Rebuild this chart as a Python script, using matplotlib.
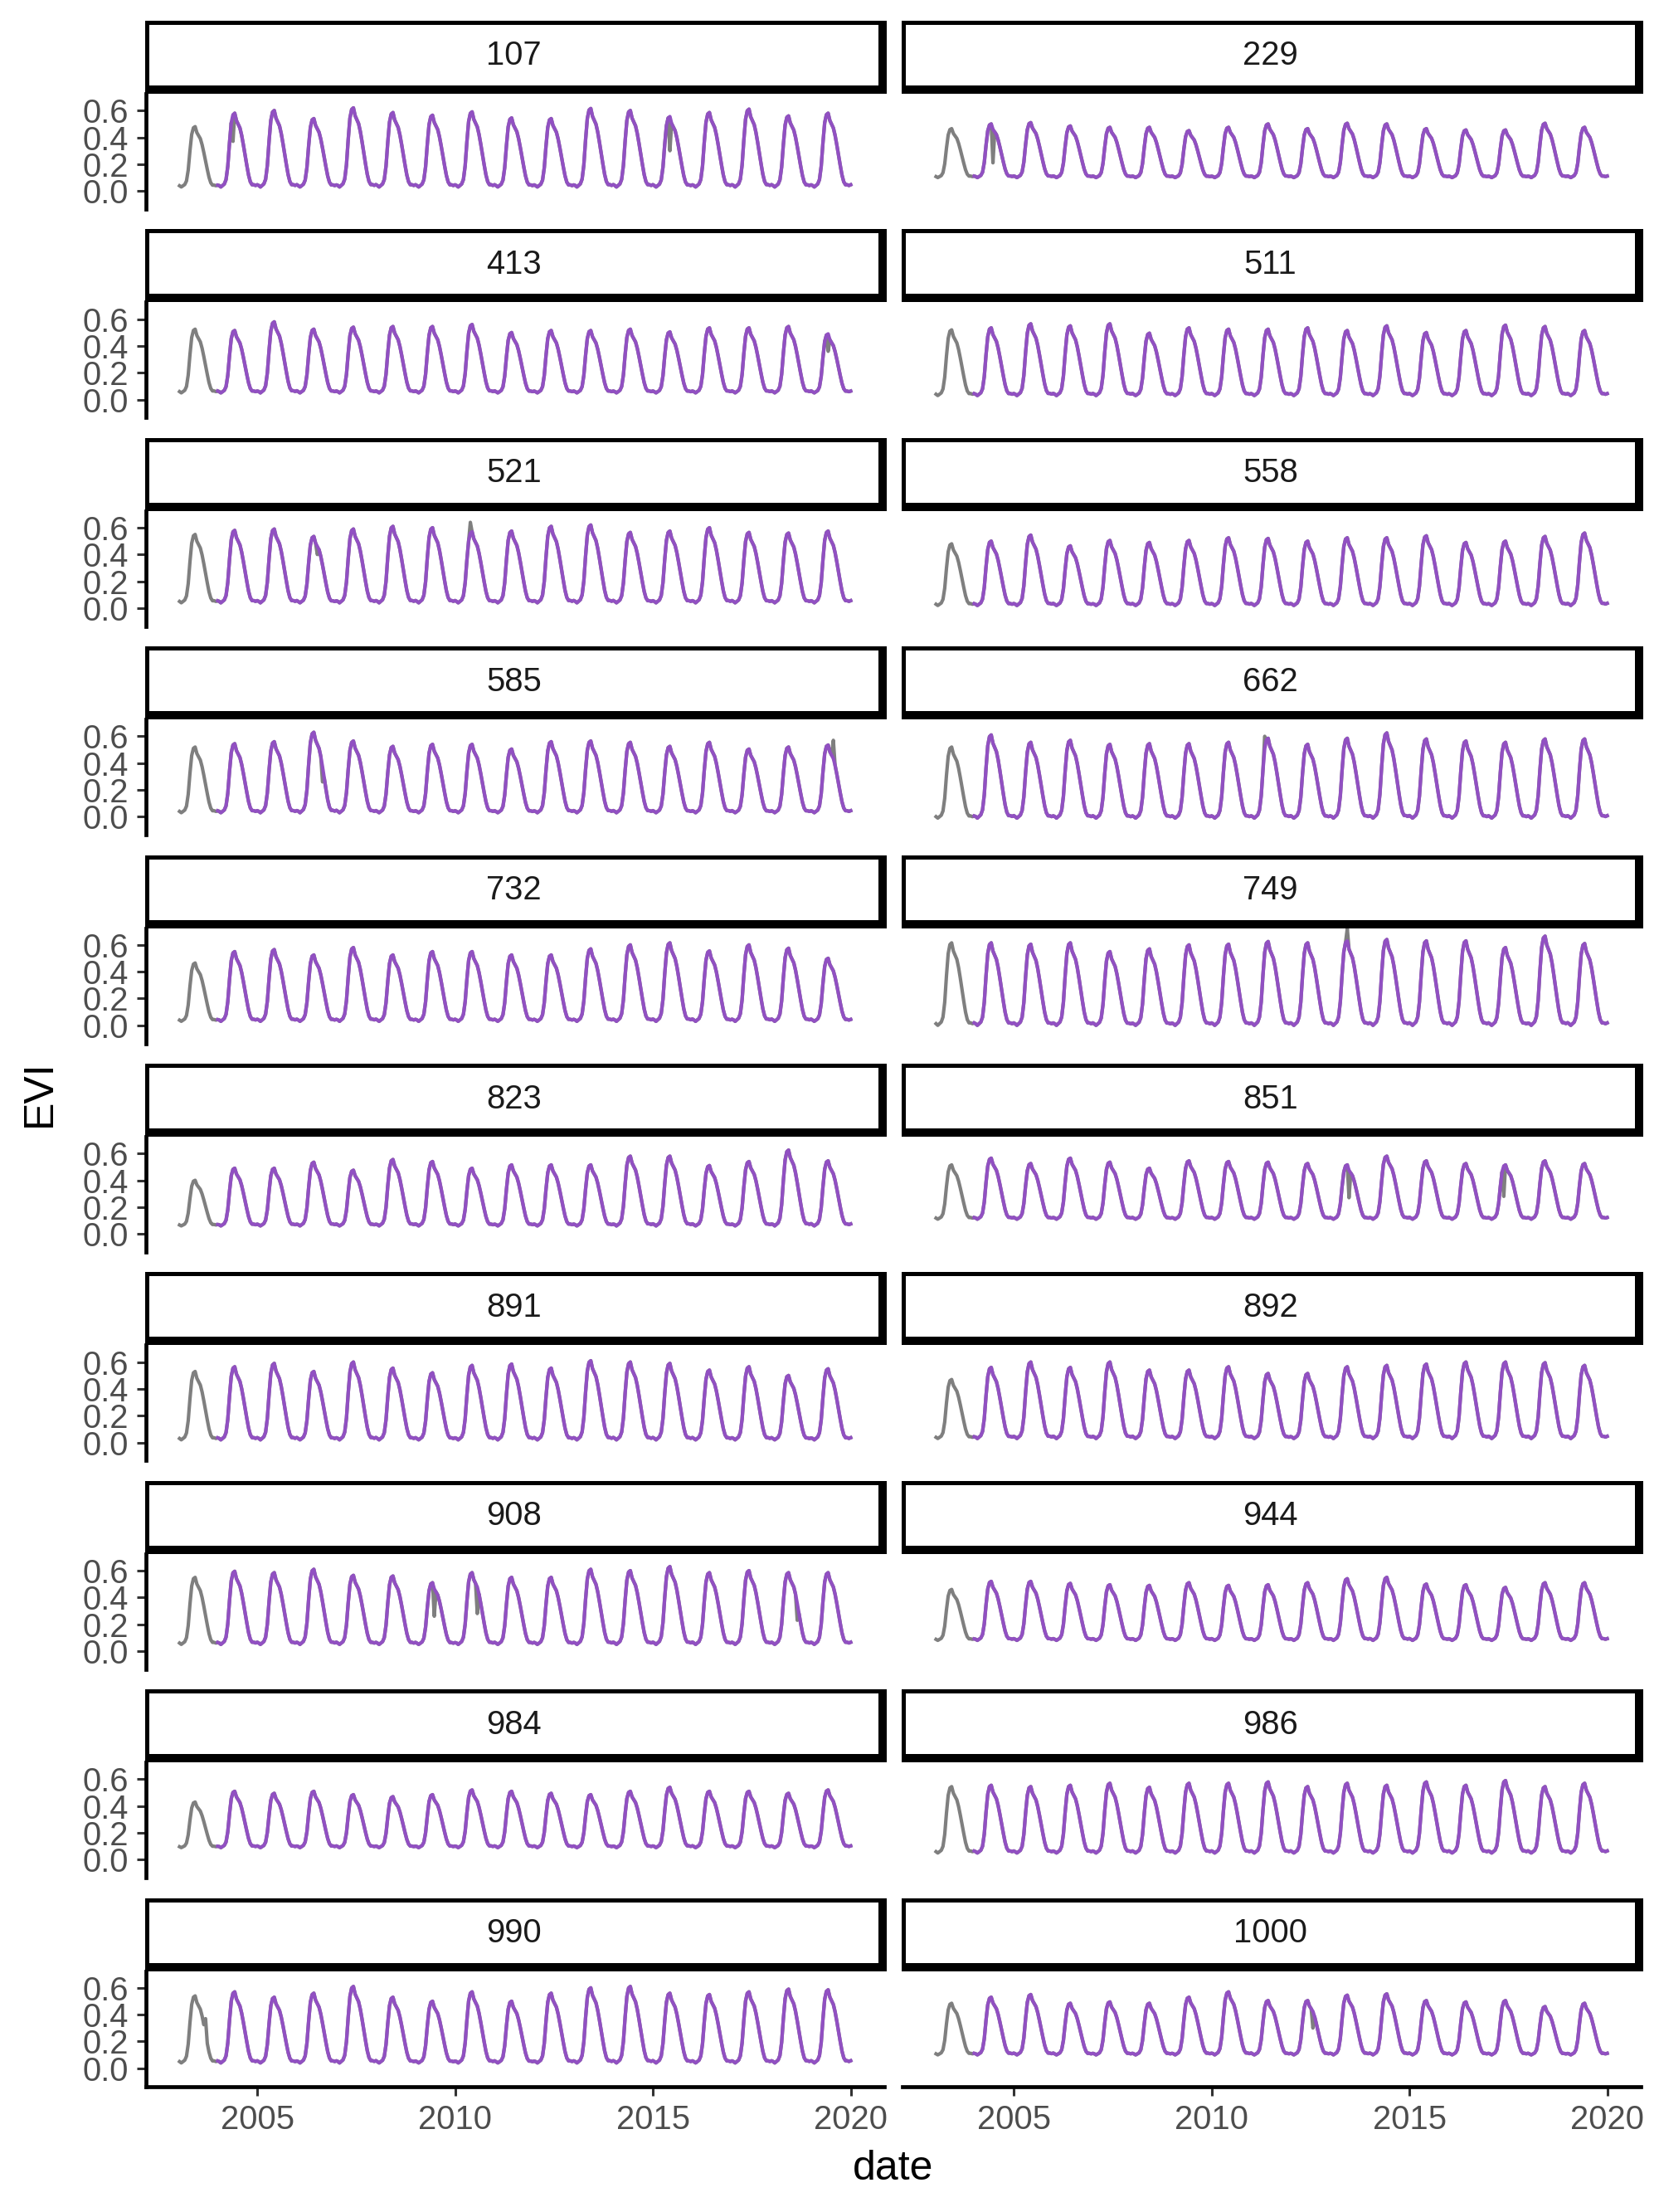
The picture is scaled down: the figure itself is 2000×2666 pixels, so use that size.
import numpy as np
import matplotlib.pyplot as plt
from matplotlib.patches import Rectangle

plt.rcParams['font.family'] = ['Liberation Sans', 'DejaVu Sans']

# 16-day composites: day of year of each step, 23 per year
years = list(range(2003, 2020))
composite_doy = list(range(13, 366, 16))

# typical normalised seasonal course (0 = winter base, 1 = summer peak), read off one cycle
season_shape = [0.02, 0.00, 0.02, 0.04, 0.10, 0.28, 0.60, 0.87, 0.98, 1.00, 0.90, 0.85,
                0.80, 0.70, 0.57, 0.43, 0.29, 0.16, 0.07, 0.03, 0.03, 0.02, 0.03]

sites = ["107", "229", "413", "511", "521", "558", "585", "662", "732", "749",
         "823", "851", "891", "892", "908", "944", "984", "986", "990", "1000"]

# winter base level of each site
base_level = [0.03, 0.10, 0.05, 0.03, 0.04, 0.02, 0.03, -0.01, 0.03, 0.00,
              0.06, 0.11, 0.02, 0.03, 0.05, 0.08, 0.09, 0.05, 0.04, 0.10]

# yearly EVI peak, 2003 .. 2019
peak_107 = [0.48, 0.58, 0.60, 0.54, 0.62, 0.585, 0.565, 0.59, 0.545, 0.54, 0.615, 0.60, 0.555, 0.585, 0.61, 0.56, 0.58]
peak_229 = [0.465, 0.50, 0.51, 0.485, 0.475, 0.475, 0.45, 0.475, 0.50, 0.465, 0.505, 0.50, 0.465, 0.455, 0.455, 0.505, 0.475]
peak_413 = [0.525, 0.515, 0.58, 0.525, 0.54, 0.545, 0.545, 0.56, 0.50, 0.515, 0.515, 0.525, 0.505, 0.535, 0.535, 0.545, 0.49]
peak_511 = [0.52, 0.535, 0.565, 0.55, 0.565, 0.495, 0.535, 0.525, 0.525, 0.535, 0.515, 0.55, 0.50, 0.515, 0.555, 0.545, 0.515]
peak_521 = [0.55, 0.58, 0.59, 0.535, 0.59, 0.61, 0.60, 0.57, 0.575, 0.61, 0.62, 0.565, 0.575, 0.60, 0.565, 0.56, 0.575]
peak_558 = [0.48, 0.50, 0.545, 0.465, 0.505, 0.49, 0.505, 0.525, 0.52, 0.50, 0.525, 0.525, 0.54, 0.49, 0.50, 0.535, 0.56]
peak_585 = [0.52, 0.545, 0.56, 0.63, 0.565, 0.525, 0.54, 0.54, 0.505, 0.56, 0.565, 0.555, 0.525, 0.555, 0.505, 0.52, 0.535]
peak_662 = [0.52, 0.61, 0.555, 0.57, 0.54, 0.545, 0.545, 0.555, 0.585, 0.54, 0.585, 0.625, 0.58, 0.565, 0.555, 0.58, 0.58]
peak_732 = [0.465, 0.55, 0.565, 0.525, 0.58, 0.525, 0.55, 0.55, 0.525, 0.525, 0.57, 0.60, 0.615, 0.555, 0.60, 0.575, 0.50]
peak_749 = [0.615, 0.615, 0.605, 0.615, 0.55, 0.57, 0.60, 0.605, 0.625, 0.615, 0.63, 0.64, 0.63, 0.63, 0.58, 0.665, 0.61]
peak_823 = [0.40, 0.49, 0.49, 0.535, 0.475, 0.555, 0.54, 0.49, 0.515, 0.515, 0.515, 0.58, 0.58, 0.51, 0.54, 0.625, 0.545]
peak_851 = [0.515, 0.565, 0.525, 0.565, 0.535, 0.49, 0.545, 0.54, 0.535, 0.525, 0.515, 0.58, 0.545, 0.525, 0.515, 0.545, 0.525]
peak_891 = [0.53, 0.565, 0.59, 0.53, 0.60, 0.555, 0.52, 0.575, 0.585, 0.555, 0.61, 0.60, 0.59, 0.54, 0.565, 0.50, 0.55]
peak_892 = [0.47, 0.56, 0.60, 0.56, 0.60, 0.54, 0.54, 0.565, 0.515, 0.515, 0.565, 0.575, 0.585, 0.60, 0.60, 0.595, 0.575]
peak_908 = [0.55, 0.595, 0.585, 0.61, 0.565, 0.56, 0.51, 0.585, 0.55, 0.55, 0.61, 0.60, 0.63, 0.585, 0.60, 0.585, 0.585]
peak_944 = [0.46, 0.52, 0.52, 0.505, 0.495, 0.49, 0.51, 0.49, 0.495, 0.51, 0.54, 0.55, 0.50, 0.495, 0.475, 0.51, 0.51]
peak_984 = [0.43, 0.51, 0.495, 0.51, 0.485, 0.47, 0.485, 0.52, 0.51, 0.495, 0.485, 0.51, 0.54, 0.51, 0.51, 0.495, 0.52]
peak_986 = [0.545, 0.555, 0.545, 0.555, 0.57, 0.54, 0.57, 0.57, 0.58, 0.545, 0.57, 0.555, 0.58, 0.555, 0.59, 0.545, 0.57]
peak_990 = [0.54, 0.57, 0.53, 0.56, 0.61, 0.53, 0.50, 0.57, 0.50, 0.56, 0.60, 0.61, 0.56, 0.55, 0.57, 0.59, 0.585]
peak_1000 = [0.485, 0.53, 0.55, 0.485, 0.495, 0.485, 0.53, 0.57, 0.505, 0.505, 0.545, 0.555, 0.505, 0.495, 0.505, 0.46, 0.485]

peaks = [peak_107, peak_229, peak_413, peak_511, peak_521, peak_558, peak_585, peak_662, peak_732, peak_749,
         peak_823, peak_851, peak_891, peak_892, peak_908, peak_944, peak_984, peak_986, peak_990, peak_1000]

# observed values that stick out from the fitted line (decimal year, EVI)
gray_glitches = {
    "107": [(2004.40, 0.37), (2015.45, 0.30)],
    "229": [(2004.47, 0.21)],
    "413": [(2019.42, 0.36)],
    "521": [(2006.50, 0.40), (2010.40, 0.64)],
    "585": [(2006.65, 0.26), (2019.55, 0.57)],
    "662": [(2011.35, 0.60)],
    "749": [(2013.45, 0.72)],
    "851": [(2013.47, 0.27), (2017.39, 0.28)],
    "908": [(2009.49, 0.26), (2010.57, 0.28), (2018.65, 0.23)],
    "990": [(2003.70, 0.37)],
    "1000": [(2012.56, 0.30)],
}

pred_start = 2004.0   # fitted series begins after the first year

W, H = 2000, 2666
fig = plt.figure(figsize=(W / 200, H / 200), dpi=200)

t = np.array([y + d / 365 for y in years for d in composite_doy])
pad = 0.05 * (t.max() - t.min())

for i, site in enumerate(sites):
    row, col = divmod(i, 2)
    x0, x1 = (176, 1066) if col == 0 else (1088, 1978)
    top = 113 + 251.4 * row
    bot = 252 + 251.4 * row
    ax = fig.add_axes([x0 / W, 1 - bot / H, (x1 - x0) / W, (bot - top) / H])

    base = base_level[i]
    fitted = np.array([base + (pk - base) * s for pk in peaks[i] for s in season_shape])
    observed = fitted.copy()
    for yr, val in gray_glitches.get(site, []):
        observed[np.argmin(np.abs(t - yr))] = val

    ax.plot(t, observed, color='#7F7F7F', lw=1.5, solid_joinstyle='round')
    m = t >= pred_start
    ax.plot(t[m], fitted[m], color='#9150C2', lw=1.5, solid_joinstyle='round')

    ax.set_xlim(t.min() - pad, t.max() + pad)
    ax.set_ylim(-0.135, 0.725)
    ax.patch.set_alpha(0)
    for s in ['top', 'right']:
        ax.spines[s].set_visible(False)
    ax.spines['left'].set_visible(col == 0)
    ax.spines['bottom'].set_visible(row == 9)
    for s in ['left', 'bottom']:
        ax.spines[s].set_linewidth(1.7)
        ax.spines[s].set_color('black')

    ax.set_yticks([0.0, 0.2, 0.4, 0.6])
    ax.set_yticklabels(['0.0', '0.2', '0.4', '0.6'])
    ax.set_xticks([2005, 2010, 2015, 2020])
    ax.set_xticklabels(['2005', '2010', '2015', '2020'])
    ax.tick_params(length=4, width=1.1, color='#333333', labelcolor='#4D4D4D',
                   labelsize=14.4, pad=3.6)
    ax.tick_params(axis='y', left=(col == 0), labelleft=(col == 0))
    ax.tick_params(axis='x', bottom=(row == 9), labelbottom=(row == 9))

    # strip with label
    sx0, sx1 = x0 - 1, x1 + 3
    sy0, sy1 = 25 + 251.4 * row, 113 + 251.4 * row
    fig.add_artist(Rectangle((sx0 / W, 1 - sy1 / H), (sx1 - sx0) / W, (sy1 - sy0) / H,
                             transform=fig.transFigure, facecolor='black', edgecolor='none'))
    fig.add_artist(Rectangle(((sx0 + 5) / W, 1 - (sy1 - 10) / H), (sx1 - sx0 - 15) / W,
                             (sy1 - sy0 - 15) / H, transform=fig.transFigure,
                             facecolor='white', edgecolor='none'))
    fig.text((sx0 + sx1 - 5) / 2 / W, 1 - (sy0 + sy1 - 3) / 2 / H, site,
             ha='center', va='center', fontsize=14.4, color='#1A1A1A')

fig.text(1077 / W, 1 - 2614 / H, 'date', ha='center', va='center', fontsize=18)
fig.text(48 / W, 1 - 1318 / H, 'EVI', ha='center', va='center', fontsize=18, rotation=90)

fig.savefig('out.png', dpi=200, facecolor='white')
